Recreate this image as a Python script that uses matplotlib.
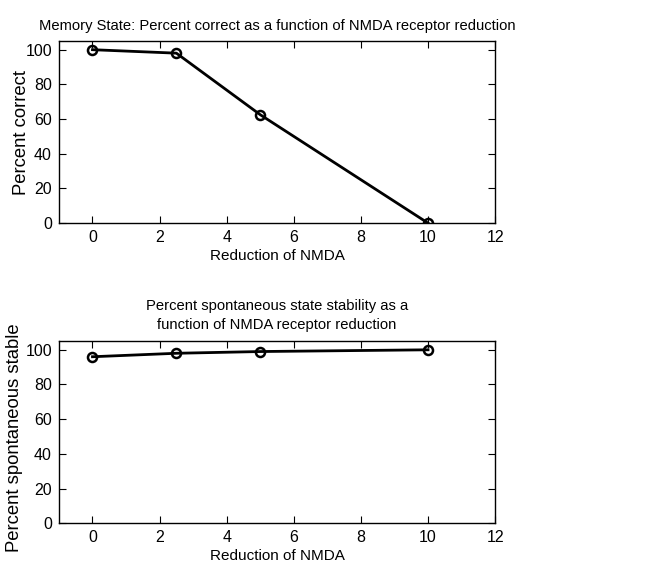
import matplotlib
matplotlib.use("Agg")
import matplotlib.pyplot as plt

# NMDA reduction levels and measured percentages
reduction = [0, 2.5, 5, 10]
percent_correct = [100, 98, 62.5, 0]
percent_spont_stable = [96, 98, 99, 100]

xticks = [0, 2, 4, 6, 8, 10, 12]
yticks = [0, 20, 40, 60, 80, 100]

plt.rcParams["font.family"] = ["Liberation Sans", "DejaVu Sans"]
plt.rcParams["font.size"] = 11

fig = plt.figure(figsize=(6.62, 5.62), dpi=100)
ax1 = fig.add_axes([0.089, 0.603, 0.659, 0.324])
ax2 = fig.add_axes([0.089, 0.069, 0.659, 0.324])


def style_axis(ax):
    ax.set_xlim(-1, 12)
    ax.set_ylim(0, 105)
    ax.set_xticks(xticks)
    ax.set_yticks(yticks)
    ax.tick_params(direction="in", top=True, right=True, length=5, width=0.8,
                   labelsize=11.5, pad=5)
    for sp in ax.spines.values():
        sp.set_linewidth(1.0)
    ax.set_xlabel("Reduction of NMDA", fontsize=11, labelpad=3)


def draw(ax, values):
    ax.plot(reduction, values, color="black", linewidth=2.0,
            marker="o", markersize=6.5, markerfacecolor="none",
            markeredgewidth=1.8)


draw(ax1, percent_correct)
style_axis(ax1)
ax1.text(-0.085, 0.5, "Percent correct", transform=ax1.transAxes,
         rotation=90, ha="center", va="center", fontsize=13.3)
ax1.set_title("Memory State: Percent correct as a function of NMDA receptor reduction",
              fontsize=10.6, pad=8)

draw(ax2, percent_spont_stable)
style_axis(ax2)
ax2.text(-0.101, 0.47, "Percent spontaneous stable", transform=ax2.transAxes,
         rotation=90, ha="center", va="center", fontsize=13.3)
ax2.set_title("Percent spontaneous state stability as a\nfunction of NMDA receptor reduction",
              fontsize=10.6, pad=9, linespacing=1.45)

fig.savefig("out.png", dpi=100)
